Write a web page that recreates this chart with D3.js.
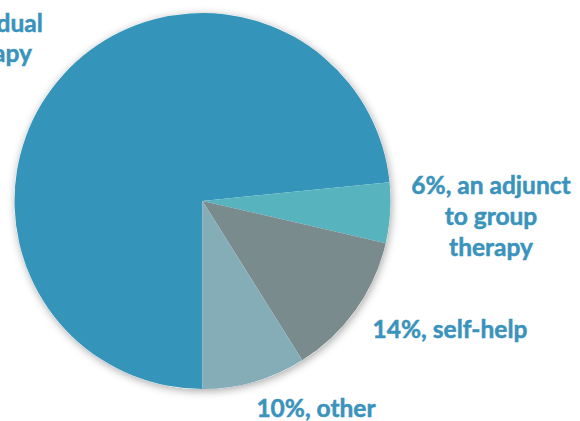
<!DOCTYPE html>
<html><head><meta charset="utf-8">
<script src="https://cdn.jsdelivr.net/npm/d3@7"></script>
<style>html,body{margin:0;padding:0;background:#fff;overflow:hidden}</style>
</head><body>
<script>
const categories = ["individual therapy", "an adjunct to group therapy", "self-help", "other"];
const shares = [73.4, 5.2, 12.5, 8.9];            // drawn slice sizes
const labelLines = [["70%,", "individual", "therapy"], ["6%, an adjunct", "to group", "therapy"], ["14%, self-help"], ["10%, other"]];
const colors = ["#3594BA", "#57B4BE", "#798B8C", "#84ADB8"];

const W = 580, H = 421, cx = 202.5, cy = 201, R = 188;
const svg = d3.select("body").append("svg").attr("width", W).attr("height", H);
const defs = svg.append("defs");
const f = defs.append("filter").attr("id", "sh").attr("x", "-20%").attr("y", "-20%").attr("width", "140%").attr("height", "140%");
f.append("feDropShadow").attr("dx", 1).attr("dy", 2).attr("stdDeviation", 4).attr("flood-color", "#000").attr("flood-opacity", 0.35);

const data = categories.map((c, i) => ({c, v: shares[i], i}));
const pie = d3.pie().value(d => d.v).sort(null).startAngle(Math.PI).endAngle(3 * Math.PI);
const arc = d3.arc().innerRadius(0).outerRadius(R);
const g = svg.append("g").attr("transform", `translate(${cx},${cy})`);
g.append("circle").attr("r", R).attr("fill", "#fff").attr("filter", "url(#sh)");
g.selectAll("path").data(pie(data)).join("path").attr("d", arc).attr("fill", d => colors[d.data.i]);

const labelPos = [[-10, -8], [491, 194], [450, 338], [316, 417]];
const lineGaps = [[0, 40, 30], [0, 31, 30.5], [0], [0]];
const lbl = svg.append("g").attr("font-family", "Lato, 'Open Sans', sans-serif").attr("font-weight", "bold")
  .attr("font-size", 24.5).attr("fill", "#3A93BC").attr("stroke", "#3A93BC").attr("stroke-width", 0.5)
  .attr("text-anchor", "middle");
labelLines.forEach((lines, i) => {
  const t = lbl.append("text").attr("x", labelPos[i][0]).attr("y", labelPos[i][1]);
  lines.forEach((s, j) => t.append("tspan").attr("x", labelPos[i][0]).attr("dy", lineGaps[i][j]).text(s));
});
</script>
</body></html>
